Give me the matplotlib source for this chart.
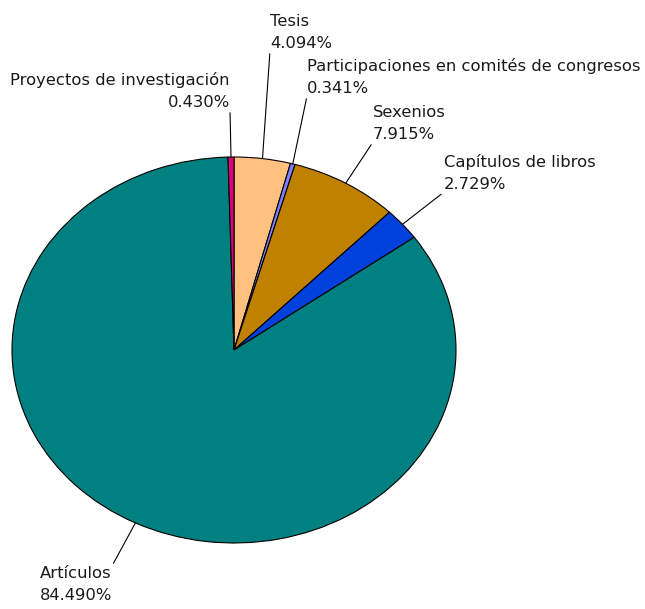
import matplotlib.pyplot as plt
import numpy as np

# Datos del gráfico
categorias = ['Tesis', 'Participaciones en comités de congresos', 'Sexenios',
              'Capítulos de libros', 'Artículos', 'Proyectos de investigación']
porcentajes = [4.094, 0.341, 7.915, 2.729, 84.490, 0.430]
colores = ['#ffc080', '#8080ff', '#c08000', '#0040dc', '#008080', '#e0007f']

# Posición de las etiquetas (píxeles desde arriba a la izquierda) y alineación
pos_etiquetas = [(270, 51), (307, 96), (373, 142), (444, 192), (112, 566), (230, 110)]
alineacion = ['left', 'left', 'left', 'left', 'right', 'right']
vertical = ['bottom', 'bottom', 'bottom', 'bottom', 'top', 'bottom']
multialin = ['left', 'left', 'left', 'left', 'center', 'right']

W, H = 645, 609
fig = plt.figure(figsize=(W / 100, H / 100), dpi=100)
# elipse: x 12..456, y 157..543 (px desde arriba)
ax = fig.add_axes([12 / W, (H - 543) / H, 444 / W, 386 / H])

wedges, _ = ax.pie(porcentajes, colors=colores, startangle=90, counterclock=False,
                   wedgeprops=dict(edgecolor='black', linewidth=0.8))
ax.set_aspect('auto')
ax.set_xlim(-1, 1)
ax.set_ylim(-1, 1)
ax.axis('off')

for w, cat, val, (px, py), ha, va, ma in zip(wedges, categorias, porcentajes,
                                             pos_etiquetas, alineacion, vertical, multialin):
    ang = np.deg2rad((w.theta1 + w.theta2) / 2)
    relpos = (0 if ha == 'left' else 1, 0 if va == 'bottom' else 1)
    ax.annotate(f'{cat}\n{val:.3f}%', xy=(np.cos(ang), np.sin(ang)), xycoords='data',
                xytext=(px, H - py), textcoords='figure pixels',
                ha=ha, va=va, fontsize=11.8, color='#1a1a1a', linespacing=1.6,
                multialignment=ma,
                arrowprops=dict(arrowstyle='-', color='black', lw=0.8,
                                shrinkA=0, shrinkB=0, relpos=relpos))

fig.savefig('out.png', dpi=100)
